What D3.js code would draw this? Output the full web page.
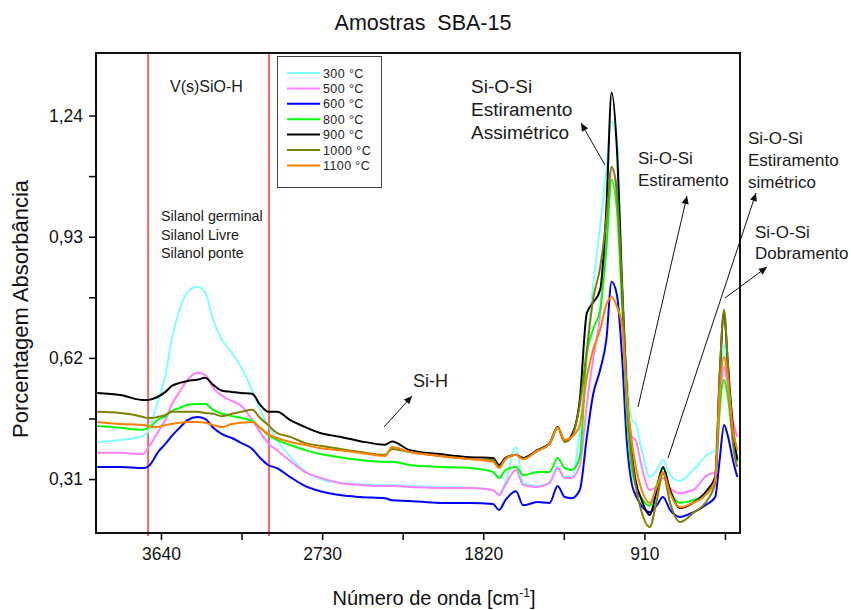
<!DOCTYPE html>
<html>
<head>
<meta charset="utf-8">
<script src="https://cdn.jsdelivr.net/npm/d3@7"></script>
<style>
  body { margin: 0; background: #fff; }
  text { font-family: "Liberation Sans", Arial, sans-serif; }
</style>
</head>
<body>
<svg id="chart" width="851" height="610"></svg>
<script>
// FTIR spectra of SBA-15 samples calcined at different temperatures
const wavenumbers = [4000, 3870, 3740, 3715, 3690, 3660, 3615, 3580, 3535, 3490, 3435, 3390, 3345, 3295, 3240, 3185, 3125, 3080, 3035, 2985, 2910, 2825, 2740, 2630, 2515, 2375, 2335, 2235, 2065, 1895, 1765, 1730, 1695, 1635, 1595, 1515, 1445, 1400, 1360, 1320, 1275, 1235, 1200, 1160, 1125, 1095, 1065, 1035, 1010, 980, 960, 925, 880, 840, 805, 765, 710, 635, 555, 510, 485, 460, 440, 410, 385];

const abs300 = [0.405, 0.410, 0.420, 0.430, 0.461, 0.505, 0.576, 0.666, 0.743, 0.789, 0.802, 0.787, 0.717, 0.666, 0.633, 0.594, 0.538, 0.487, 0.448, 0.410, 0.366, 0.330, 0.310, 0.300, 0.297, 0.295, 0.295, 0.292, 0.290, 0.287, 0.282, 0.272, 0.302, 0.392, 0.300, 0.292, 0.302, 0.341, 0.315, 0.315, 0.436, 0.648, 0.802, 0.956, 1.102, 1.225, 1.179, 0.820, 0.589, 0.461, 0.454, 0.384, 0.315, 0.333, 0.359, 0.320, 0.305, 0.333, 0.372, 0.384, 0.512, 0.653, 0.589, 0.436, 0.384];

const abs500 = [0.377, 0.377, 0.374, 0.389, 0.405, 0.428, 0.461, 0.500, 0.533, 0.564, 0.582, 0.576, 0.543, 0.523, 0.510, 0.497, 0.461, 0.430, 0.402, 0.384, 0.356, 0.328, 0.313, 0.300, 0.295, 0.292, 0.292, 0.290, 0.287, 0.287, 0.282, 0.269, 0.295, 0.333, 0.295, 0.290, 0.300, 0.338, 0.313, 0.313, 0.346, 0.500, 0.615, 0.730, 0.922, 1.102, 1.058, 0.787, 0.538, 0.418, 0.410, 0.341, 0.282, 0.292, 0.313, 0.287, 0.274, 0.282, 0.320, 0.328, 0.487, 0.597, 0.551, 0.461, 0.418];

const abs600 = [0.341, 0.341, 0.338, 0.341, 0.354, 0.377, 0.400, 0.420, 0.441, 0.461, 0.469, 0.464, 0.441, 0.425, 0.415, 0.402, 0.387, 0.364, 0.346, 0.338, 0.315, 0.292, 0.279, 0.269, 0.264, 0.261, 0.256, 0.254, 0.249, 0.249, 0.246, 0.231, 0.256, 0.279, 0.243, 0.251, 0.249, 0.292, 0.264, 0.261, 0.282, 0.418, 0.525, 0.589, 0.666, 0.815, 0.781, 0.615, 0.410, 0.295, 0.269, 0.241, 0.225, 0.243, 0.264, 0.231, 0.213, 0.225, 0.246, 0.264, 0.359, 0.448, 0.423, 0.359, 0.315];

const abs800 = [0.446, 0.441, 0.436, 0.441, 0.448, 0.461, 0.471, 0.484, 0.492, 0.500, 0.502, 0.502, 0.487, 0.477, 0.471, 0.466, 0.459, 0.441, 0.423, 0.410, 0.397, 0.384, 0.374, 0.366, 0.359, 0.354, 0.354, 0.346, 0.341, 0.338, 0.328, 0.313, 0.333, 0.341, 0.320, 0.328, 0.328, 0.364, 0.338, 0.333, 0.366, 0.628, 0.692, 0.743, 0.897, 1.076, 0.999, 0.743, 0.487, 0.333, 0.295, 0.261, 0.241, 0.295, 0.338, 0.282, 0.249, 0.256, 0.274, 0.302, 0.487, 0.564, 0.525, 0.410, 0.354];

const abs900 = [0.530, 0.525, 0.512, 0.512, 0.515, 0.520, 0.533, 0.548, 0.556, 0.561, 0.564, 0.569, 0.551, 0.536, 0.533, 0.530, 0.528, 0.500, 0.482, 0.482, 0.461, 0.443, 0.428, 0.418, 0.407, 0.398, 0.406, 0.384, 0.374, 0.366, 0.364, 0.346, 0.364, 0.372, 0.364, 0.384, 0.402, 0.443, 0.407, 0.423, 0.512, 0.735, 0.761, 0.794, 0.999, 1.299, 1.153, 0.794, 0.538, 0.372, 0.307, 0.256, 0.218, 0.282, 0.341, 0.282, 0.236, 0.249, 0.282, 0.315, 0.571, 0.738, 0.615, 0.443, 0.359];

const abs1000 = [0.482, 0.479, 0.469, 0.466, 0.466, 0.469, 0.474, 0.482, 0.482, 0.482, 0.482, 0.479, 0.477, 0.471, 0.477, 0.482, 0.487, 0.466, 0.448, 0.428, 0.418, 0.402, 0.395, 0.387, 0.379, 0.372, 0.387, 0.379, 0.369, 0.361, 0.359, 0.341, 0.361, 0.372, 0.361, 0.382, 0.400, 0.441, 0.405, 0.418, 0.500, 0.640, 0.769, 0.851, 0.974, 1.109, 1.043, 0.787, 0.530, 0.359, 0.295, 0.225, 0.187, 0.256, 0.325, 0.249, 0.200, 0.223, 0.256, 0.300, 0.571, 0.743, 0.615, 0.402, 0.341];

const abs1100 = [0.456, 0.451, 0.448, 0.446, 0.443, 0.443, 0.448, 0.451, 0.454, 0.456, 0.456, 0.454, 0.448, 0.443, 0.451, 0.454, 0.456, 0.441, 0.425, 0.415, 0.405, 0.397, 0.389, 0.384, 0.377, 0.369, 0.392, 0.379, 0.369, 0.361, 0.354, 0.338, 0.361, 0.372, 0.361, 0.382, 0.400, 0.441, 0.410, 0.418, 0.448, 0.571, 0.640, 0.692, 0.756, 0.776, 0.751, 0.699, 0.530, 0.402, 0.346, 0.282, 0.249, 0.290, 0.328, 0.274, 0.238, 0.249, 0.274, 0.307, 0.530, 0.623, 0.571, 0.436, 0.384];

const seriesLabels = ["300 °C", "500 °C", "600 °C", "800 °C", "900 °C", "1000 °C", "1100 °C"];
const seriesValues = [abs300, abs500, abs600, abs800, abs900, abs1000, abs1100];
const seriesColors = ["#80ffff", "#ff80ff", "#0000ff", "#00ff00", "#000000", "#808000", "#ff8000"];

const yTicks = [0.31, 0.62, 0.93, 1.24];
const yMinorTicks = [0.465, 0.775, 1.085];
const xTicks = [3640, 2730, 1820, 910];
const xMinorTicks = [3185, 2275, 1365, 455];
const silanolRegion = [3713, 3030];

const svg = d3.select("#chart");
const plot = { left: 96, right: 740, top: 53, bottom: 533 };

const x = d3.scaleLinear().domain([4007, 370]).range([plot.left, plot.right]);
const y = d3.scaleLinear().domain([0.172, 1.40]).range([plot.bottom, plot.top]);
const fmt = d => d3.format(".2f")(d).replace(".", ",");

// Arrow head used by the band annotations
svg.append("defs").append("marker")
  .attr("id", "arrowHead")
  .attr("viewBox", "0 0 10 10")
  .attr("refX", 10).attr("refY", 5)
  .attr("markerWidth", 11).attr("markerHeight", 8)
  .attr("markerUnits", "userSpaceOnUse")
  .attr("orient", "auto")
  .append("path").attr("d", "M0,0.5 L10,5 L0,9.5 Z").attr("fill", "#111");

svg.select("defs").append("clipPath").attr("id", "plotClip")
  .append("rect").attr("x", plot.left).attr("y", plot.top)
  .attr("width", plot.right - plot.left).attr("height", plot.bottom - plot.top);

// Title
svg.append("text").attr("x", 423).attr("y", 30).attr("text-anchor", "middle")
  .attr("font-size", 21.5).attr("fill", "#111").style("white-space", "pre")
  .text("Amostras  SBA-15");

// Silanol region boundaries
svg.append("g").selectAll("line").data(silanolRegion).join("line")
  .attr("x1", d => x(d)).attr("x2", d => x(d))
  .attr("y1", plot.top - 1).attr("y2", plot.bottom + 3)
  .attr("stroke", "#ff0000").attr("stroke-width", 1.2);

// Spectra
const line = d3.line()
  .x((d, i) => x(wavenumbers[i]))
  .y(d => y(d))
  .curve(d3.curveMonotoneX);

svg.append("g").attr("clip-path", "url(#plotClip)")
  .selectAll("path").data(seriesValues).join("path")
  .attr("d", d => line(d))
  .attr("fill", "none")
  .attr("stroke", (d, i) => seriesColors[i])
  .attr("stroke-width", 2)
  .attr("stroke-linejoin", "round");

// Axes
svg.append("g").attr("transform", `translate(0,${plot.bottom})`)
  .call(d3.axisBottom(x).tickValues(xTicks).tickSize(7).tickPadding(8).tickFormat(d3.format("d")));
svg.append("g").attr("transform", `translate(0,${plot.bottom})`)
  .call(d3.axisBottom(x).tickValues(xMinorTicks).tickSize(7).tickFormat(""));
svg.append("g").attr("transform", `translate(${plot.left},0)`)
  .call(d3.axisLeft(y).tickValues(yTicks).tickSize(7).tickPadding(6).tickFormat(fmt));
svg.append("g").attr("transform", `translate(${plot.left},0)`)
  .call(d3.axisLeft(y).tickValues(yMinorTicks).tickSize(7).tickFormat(""));

svg.selectAll(".domain").remove();
svg.selectAll(".tick line").attr("stroke", "#111").attr("stroke-width", 1.6);
svg.selectAll(".tick text").attr("font-size", 17.5).attr("fill", "#111")
  .attr("font-family", "'Liberation Sans', Arial, sans-serif");

// Frame
svg.append("rect").attr("x", plot.left).attr("y", plot.top)
  .attr("width", plot.right - plot.left).attr("height", plot.bottom - plot.top)
  .attr("fill", "none").attr("stroke", "#111").attr("stroke-width", 2);

// Axis titles
svg.append("text").attr("transform", "translate(28,309) rotate(-90)")
  .attr("text-anchor", "middle").attr("font-size", 22).attr("fill", "#111")
  .text("Porcentagem Absorbância");

const xt = svg.append("text").attr("x", 434).attr("y", 605)
  .attr("text-anchor", "middle").attr("font-size", 20).attr("fill", "#111");
xt.append("tspan").text("Número de onda [cm");
xt.append("tspan").attr("font-size", 12).attr("dy", -8).text("-1");
xt.append("tspan").attr("dy", 8).text("]");

// Legend
const legend = svg.append("g");
legend.append("rect").attr("x", 277.5).attr("y", 56.5).attr("width", 104).attr("height", 131)
  .attr("fill", "#fff").attr("stroke", "#444").attr("stroke-width", 1);
const rows = legend.selectAll("g.row").data(seriesLabels).join("g").attr("class", "row")
  .attr("transform", (d, i) => `translate(0,${73 + i * 15.4})`);
rows.append("line").attr("x1", 287).attr("x2", 320)
  .attr("stroke", (d, i) => seriesColors[i]).attr("stroke-width", 2);
rows.append("text").attr("x", 323).attr("y", 4.5).attr("font-size", 12.5)
  .attr("letter-spacing", 0.4).attr("fill", "#222").text(d => d);

// Band annotations
const note = (lines, x0, y0, size, gap) => {
  const t = svg.append("text").attr("font-size", size).attr("fill", "#1a1a1a");
  lines.forEach((s, i) => t.append("tspan").attr("x", x0).attr("y", y0 + i * gap).text(s));
};
note(["V(s)SiO-H"], 170, 92, 16, 0);
note(["Silanol germinal", "Silanol Livre", "Silanol ponte"], 161, 221, 14.3, 18.5);
note(["Si-H"], 413, 387, 18, 0);
note(["Si-O-Si", "Estiramento", "Assimétrico"], 471, 93, 19, 23);
note(["Si-O-Si", "Estiramento"], 638, 164, 17, 21.5);
note(["Si-O-Si", "Estiramento", "simétrico"], 748, 144, 17, 22);
note(["Si-O-Si", "Dobramento"], 755, 238, 17, 21);

const arrows = [
  [384, 427, 412, 396],
  [605, 165, 581, 123],
  [638, 407, 687, 196],
  [668, 458, 756, 193],
  [725, 298, 767, 267]
];
svg.append("g").selectAll("line").data(arrows).join("line")
  .attr("x1", d => d[0]).attr("y1", d => d[1]).attr("x2", d => d[2]).attr("y2", d => d[3])
  .attr("stroke", "#111").attr("stroke-width", 1)
  .attr("marker-end", "url(#arrowHead)");
</script>
</body>
</html>
